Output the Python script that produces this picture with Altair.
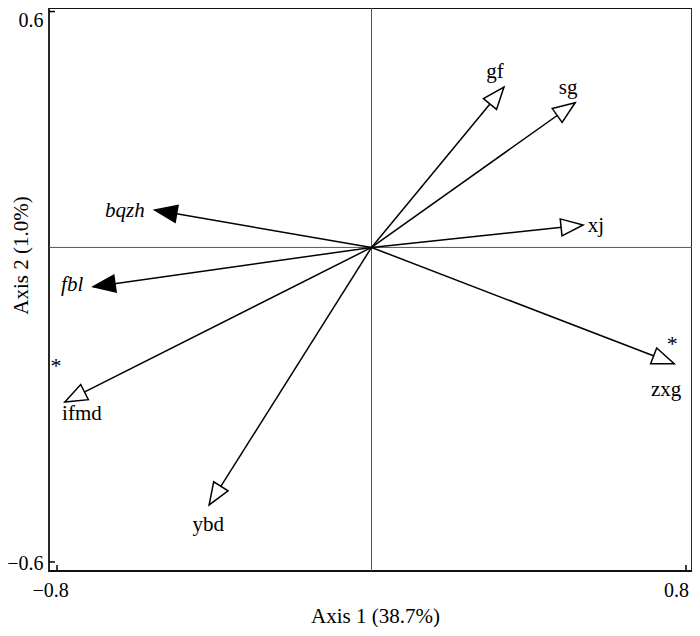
import altair as alt
import pandas as pd

# ---- data ----
names = ["gf", "sg", "xj", "zxg", "ybd", "ifmd", "bqzh", "fbl"]
axis1 = [0.337, 0.518, 0.538, 0.770, -0.413, -0.780, -0.551, -0.708]
axis2 = [0.408, 0.368, 0.057, -0.296, -0.655, -0.393, 0.095, -0.100]
kinds = ["species", "species", "species", "species", "species", "species", "env", "env"]
significant = ["zxg", "ifmd"]

x_tick_values = [-0.8, 0.8]
y_tick_values = [0.6, -0.8]
y_tick_text = ["0.6", "\u22120.6"]

# ---- styling (offsets in px) ----
label_offsets = {"gf": (-9, -15), "sg": (-7, -15), "xj": (13, 1), "zxg": (-8, 26),
                 "ybd": (-1, 20), "ifmd": (17, 12), "bqzh": (-30, 1), "fbl": (-21, -2)}
star_offsets = {"zxg": (-2, -20), "ifmd": (-9, -36)}

FONT = "Liberation Serif"
FS = 21

df = pd.DataFrame({"name": names, "axis1": axis1, "axis2": axis2, "kind": kinds})
df["x0"] = 0.0
df["y0"] = 0.0

xs = alt.Scale(domain=[-0.8204, 0.8153], nice=False, zero=False)
ys = alt.Scale(domain=[-0.823, 0.609], nice=False, zero=False)

x_axis = alt.Axis(values=x_tick_values, ticks=False, tickSize=0, domain=False, grid=False,
                  labelExpr="datum.value < 0 ? '\u22120.8' : '0.8'", labelFlush=False,
                  labelFont=FONT, labelFontSize=20, labelColor="black",
                  labelBaseline="middle", labelPadding=19,
                  labelOffset={"condition": {"test": "datum.value < 0", "value": -7}, "value": -10},
                  title="Axis 1 (38.7%)", titleFont=FONT, titleFontSize=FS,
                  titleFontWeight="normal", titleColor="black",
                  titleBaseline="middle", titleX=326, titleY=45)
y_axis = alt.Axis(values=y_tick_values, ticks=False, tickSize=0, domain=False, grid=False,
                  labelExpr="datum.value < 0 ? '%s' : '%s'" % (y_tick_text[1], y_tick_text[0]),
                  labelFlush=False, labelFont=FONT, labelFontSize=20, labelColor="black",
                  labelBaseline="middle", labelAlign="right", labelPadding=6,
                  labelOffset={"condition": {"test": "datum.value > 0", "value": 9}, "value": 2},
                  title="Axis 2 (1.0%)", titleFont=FONT, titleFontSize=FS,
                  titleFontWeight="normal", titleColor="black", titleAngle=270,
                  titleBaseline="middle", titleX=-28, titleY=247)

base = alt.Chart(df)

zero = pd.DataFrame({"v": [0.0]})
vline = alt.Chart(zero).mark_rule(color="#555555", strokeWidth=1).encode(
    x=alt.X("v:Q", scale=xs, axis=x_axis))
hline = alt.Chart(zero).mark_rule(color="#555555", strokeWidth=1).encode(
    y=alt.Y("v:Q", scale=ys, axis=y_axis))

xt = alt.Chart(pd.DataFrame({"t": x_tick_values})).mark_rule(color="black", strokeWidth=1.5).encode(
    x=alt.X("t:Q", scale=xs), y=alt.value(563), y2=alt.value(557))
yt = alt.Chart(pd.DataFrame({"t": y_tick_values})).mark_rule(color="black", strokeWidth=1.5).encode(
    y=alt.Y("t:Q", scale=ys), x=alt.value(0), x2=alt.value(6))

shafts = base.mark_rule(color="black", strokeWidth=1.5).encode(
    x=alt.X("x0:Q", scale=xs), y=alt.Y("y0:Q", scale=ys),
    x2="axis1:Q", y2="axis2:Q")

head_path = "M0,0L0.85,2.2L-0.85,2.2Z"
heads = base.transform_calculate(
    ang="(atan2(datum.axis1, datum.axis2) * 180 / PI + 360) % 360"
).mark_point(shape=head_path, size=400, filled=True, opacity=1,
             stroke="black", strokeWidth=1.5, strokeJoin="miter").encode(
    x=alt.X("axis1:Q", scale=xs), y=alt.Y("axis2:Q", scale=ys),
    angle=alt.Angle("ang:Q", scale=None),
    fill=alt.Fill("kind:N", scale=alt.Scale(domain=["species", "env"], range=["white", "black"]),
                  legend=None))

layers = [vline, hline, xt, yt, shafts, heads]
for n in names:
    dx, dy = label_offsets[n]
    style = "italic" if kinds[names.index(n)] == "env" else "normal"
    layers.append(base.transform_filter(alt.datum.name == n).mark_text(
        font=FONT, fontSize=FS, fontStyle=style, color="black",
        dx=dx, dy=dy, align="center", baseline="middle").encode(
        x=alt.X("axis1:Q", scale=xs), y=alt.Y("axis2:Q", scale=ys), text="name:N"))
for n in significant:
    dx, dy = star_offsets[n]
    layers.append(base.transform_filter(alt.datum.name == n).mark_text(
        font=FONT, fontSize=22, color="black", dx=dx, dy=dy,
        align="center", baseline="middle", text="*").encode(
        x=alt.X("axis1:Q", scale=xs), y=alt.Y("axis2:Q", scale=ys)))

chart = alt.layer(*layers).properties(
    width=643, height=563,
    autosize=alt.AutoSizeParams(type="none"),
    padding={"left": 41, "top": 0, "right": 0, "bottom": 56},
    background="white",
).configure_view(stroke="#111111", strokeWidth=1.8)

chart.save("out.html", embed_options={"renderer": "svg", "actions": False})
